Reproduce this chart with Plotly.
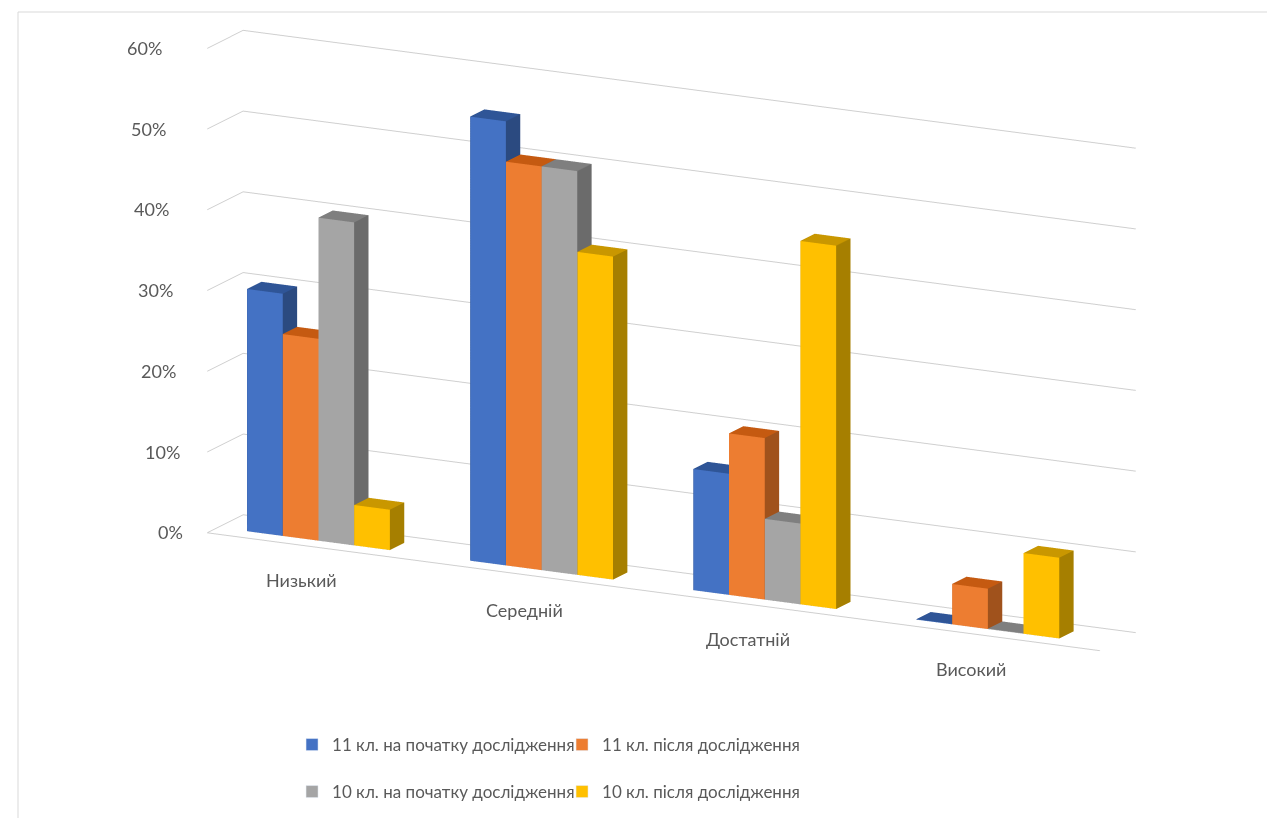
import plotly.graph_objects as go

# Levels and the four survey series, in percent
categories = ["Низький", "Середній", "Достатній", "Високий"]
series_names = [
    "11 кл. на початку дослідження",
    "11 кл. після дослідження",
    "10 кл. на початку дослідження",
    "10 кл. після дослідження",
]
grade11_start = [30, 55, 15, 0]
grade11_after = [25, 50, 20, 5]
grade10_start = [40, 50, 10, 0]
grade10_after = [5, 40, 45, 10]
tick_values = [0, 10, 20, 30, 40, 50, 60]
tick_labels = ["0%", "10%", "20%", "30%", "40%", "50%", "60%"]

series_values = [grade11_start, grade11_after, grade10_start, grade10_after]

# front / top / right-side shades for each series
front_colors = ["#4472C4", "#ED7D31", "#A5A5A5", "#FFC000"]
top_colors = ["#2F5597", "#C55A11", "#7F7F7F", "#C99700"]
side_colors = ["#2B4A80", "#A0521C", "#6B6B6B", "#A67F00"]

BAR_W = 0.16       # width of one column in category units
Y0, Y1 = 0.3, 0.7  # depth extent of columns inside the floor [0, 1]
TEXT_GRAY = "#595959"
LABEL_FONT = dict(family="Lato", size=18, color=TEXT_GRAY)

fig = go.Figure()


def box_trace(xc, value, k):
    x0, x1 = xc - BAR_W / 2, xc + BAR_W / 2
    z0, z1 = 0.0, max(value, 0.05)
    xs = [x0, x1, x1, x0, x0, x1, x1, x0]
    ys = [Y0, Y0, Y1, Y1, Y0, Y0, Y1, Y1]
    zs = [z0, z0, z0, z0, z1, z1, z1, z1]
    tri = [
        (0, 1, 5), (0, 5, 4),   # front
        (1, 2, 6), (1, 6, 5),   # right
        (4, 5, 6), (4, 6, 7),   # top
        (3, 7, 6), (3, 6, 2),   # back
        (0, 4, 7), (0, 7, 3),   # left
        (0, 3, 2), (0, 2, 1),   # bottom
    ]
    fc = ([front_colors[k]] * 2 + [side_colors[k]] * 2 + [top_colors[k]] * 2
          + [side_colors[k]] * 6)
    return go.Mesh3d(
        x=xs, y=ys, z=zs,
        i=[t[0] for t in tri], j=[t[1] for t in tri], k=[t[2] for t in tri],
        facecolor=fc, flatshading=True,
        lighting=dict(ambient=1.0, diffuse=0.0, specular=0.0, roughness=1.0, fresnel=0.0),
        hoverinfo="skip", showlegend=False,
    )


for k, vals in enumerate(series_values):
    for i, v in enumerate(vals):
        xc = i + (k - 1.5) * BAR_W
        fig.add_trace(box_trace(xc, v, k))

# legend entries (two rows of two) on a hidden 2D axis pair
for k, name in enumerate(series_names):
    fig.add_trace(go.Bar(
        x=categories, y=series_values[k], name=name, marker_color=front_colors[k],
        legend="legend" if k < 2 else "legend2", showlegend=True,
        hoverinfo="skip",
    ))

# upright labels anchored to points of the 3D scene
X_LO, X_HI = -0.45, 3.55
scene_annotations = []
for v, lab in zip(tick_values, tick_labels):
    scene_annotations.append(dict(
        x=X_LO, y=0, z=v, text=lab, showarrow=False,
        xanchor="right", yanchor="middle", xshift=-22 - 0.35 * v, font=LABEL_FONT,
    ))
for i, cat in enumerate(categories):
    scene_annotations.append(dict(
        x=i, y=0, z=0, text=cat, showarrow=False,
        xanchor="center", yanchor="middle", xshift=-6, yshift=-35, font=LABEL_FONT,
    ))

fig.update_layout(
    width=1267, height=818,
    margin=dict(l=0, r=0, t=0, b=0),
    paper_bgcolor="white",
    plot_bgcolor="rgba(0,0,0,0)",
    font=dict(family="Lato", color=TEXT_GRAY),
    xaxis=dict(visible=False, domain=[0, 0.01]),
    yaxis=dict(visible=False, domain=[0, 0.01], range=[1000, 2000]),
    barmode="group",
    scene=dict(
        domain=dict(x=[0.06, 1.0], y=[0.2, 0.9688]),
        aspectmode="manual",
        aspectratio=dict(x=3.19, y=0.2504, z=1.594),
        xaxis=dict(
            range=[X_LO, X_HI], showticklabels=False,
            showgrid=False, zeroline=False, showline=True, linecolor="#CFCFCF",
            linewidth=2, ticks="", title="",
            showbackground=False, showspikes=False,
        ),
        yaxis=dict(
            range=[0, 1], showticklabels=False, showgrid=False, zeroline=False,
            showline=False, ticks="", title="", showbackground=False,
            showspikes=False,
        ),
        zaxis=dict(
            range=[0, 60], tickvals=tick_values, showticklabels=False,
            showgrid=True, gridcolor="#CFCFCF", gridwidth=2, zeroline=False,
            showline=False, ticks="", title="",
            showbackground=False, showspikes=False,
        ),
        camera=dict(
            projection=dict(type="orthographic"),
            eye=dict(x=0.441 * 1.19, y=-0.859 * 1.19, z=0.257 * 1.19),
            center=dict(x=0, y=0, z=0),
            up=dict(x=0, y=0, z=1),
        ),
        annotations=scene_annotations,
    ),
    legend=dict(
        orientation="h", x=0.2305, y=1 - 745 / 818, xanchor="left", yanchor="middle",
        font=dict(family="Lato", size=17, color=TEXT_GRAY),
        entrywidth=225, bgcolor="rgba(0,0,0,0)",
    ),
    legend2=dict(
        orientation="h", x=0.2305, y=1 - 792 / 818, xanchor="left", yanchor="middle",
        font=dict(family="Lato", size=17, color=TEXT_GRAY),
        entrywidth=225, bgcolor="rgba(0,0,0,0)",
    ),
    shapes=[
        dict(type="rect", xref="paper", yref="paper",
             x0=18 / 1267, x1=1.01, y0=-0.05, y1=1 - 12 / 818,
             line=dict(color="#D9D9D9", width=1), fillcolor="rgba(0,0,0,0)"),
    ],
)

fig.write_html("out.html")
